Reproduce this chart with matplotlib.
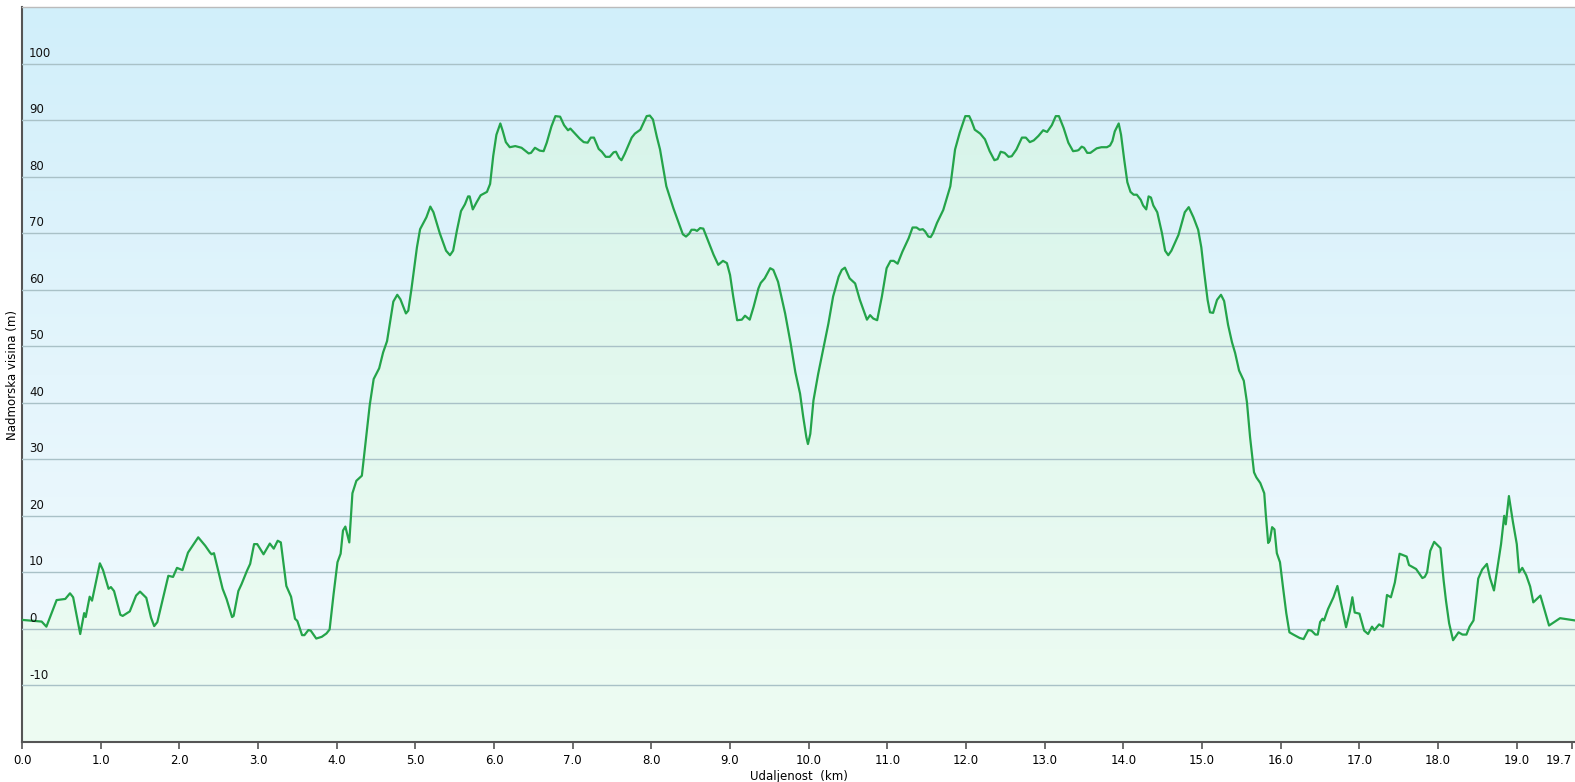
import matplotlib
matplotlib.use('Agg')
import matplotlib.pyplot as plt
import matplotlib.colors as mcolors
import numpy as np

# elevation profile (km, m)
dist_km = [0.00, 0.25, 0.31, 0.44, 0.55, 0.61, 0.65, 0.74, 0.79, 0.81, 0.86, 0.89, 0.99, 1.03, 1.10,
           1.13, 1.17, 1.25, 1.28, 1.37, 1.45, 1.50, 1.58, 1.64, 1.68, 1.72, 1.86, 1.92, 1.97, 2.04,
           2.11, 2.24, 2.33, 2.39, 2.41, 2.44, 2.55, 2.60, 2.67, 2.69, 2.75, 2.79, 2.86, 2.90, 2.95,
           2.99, 3.07, 3.15, 3.20, 3.25, 3.29, 3.36, 3.42, 3.47, 3.50, 3.56, 3.59, 3.64, 3.67, 3.74,
           3.81, 3.87, 3.91, 3.96, 4.01, 4.05, 4.08, 4.11, 4.16, 4.20, 4.25, 4.32, 4.36, 4.42, 4.47,
           4.54, 4.59, 4.64, 4.72, 4.77, 4.81, 4.88, 4.91, 4.95, 5.02, 5.06, 5.14, 5.19, 5.23, 5.31,
           5.39, 5.44, 5.48, 5.53, 5.58, 5.63, 5.67, 5.69, 5.73, 5.78, 5.83, 5.87, 5.91, 5.95, 5.99,
           6.03, 6.08, 6.11, 6.15, 6.20, 6.27, 6.35, 6.44, 6.47, 6.52, 6.58, 6.63, 6.67, 6.73, 6.78,
           6.84, 6.89, 6.94, 6.97, 7.03, 7.09, 7.14, 7.19, 7.23, 7.27, 7.33, 7.37, 7.42, 7.47, 7.52,
           7.55, 7.59, 7.62, 7.66, 7.75, 7.79, 7.86, 7.90, 7.94, 7.98, 8.02, 8.07, 8.11, 8.15, 8.19,
           8.28, 8.34, 8.40, 8.44, 8.48, 8.51, 8.55, 8.58, 8.62, 8.66, 8.70, 8.79, 8.85, 8.91, 8.96,
           9.00, 9.04, 9.09, 9.15, 9.19, 9.25, 9.30, 9.36, 9.39, 9.44, 9.51, 9.55, 9.61, 9.70, 9.77,
           9.83, 9.89, 9.93, 9.97, 9.99, 10.02, 10.06, 10.12, 10.19, 10.25, 10.31, 10.38, 10.42, 10.46,
           10.52, 10.59, 10.65, 10.74, 10.78, 10.82, 10.87, 10.93, 10.99, 11.04, 11.08, 11.13, 11.19,
           11.27, 11.32, 11.37, 11.41, 11.45, 11.48, 11.52, 11.55, 11.58, 11.63, 11.71, 11.80, 11.86,
           11.92, 11.99, 12.04, 12.07, 12.11, 12.18, 12.24, 12.30, 12.36, 12.40, 12.44, 12.49, 12.54,
           12.58, 12.64, 12.71, 12.76, 12.81, 12.86, 12.92, 12.98, 13.03, 13.09, 13.14, 13.18, 13.24,
           13.30, 13.36, 13.41, 13.43, 13.47, 13.50, 13.54, 13.58, 13.66, 13.72, 13.79, 13.83, 13.86,
           13.89, 13.94, 13.97, 14.01, 14.05, 14.09, 14.13, 14.17, 14.22, 14.25, 14.29, 14.32, 14.35,
           14.38, 14.43, 14.49, 14.53, 14.57, 14.61, 14.70, 14.78, 14.83, 14.89, 14.95, 14.99, 15.02,
           15.07, 15.10, 15.14, 15.19, 15.24, 15.28, 15.33, 15.38, 15.42, 15.47, 15.53, 15.57, 15.61,
           15.66, 15.69, 15.74, 15.79, 15.81, 15.84, 15.86, 15.89, 15.92, 15.95, 15.99, 16.03, 16.07,
           16.11, 16.16, 16.24, 16.29, 16.35, 16.39, 16.44, 16.47, 16.50, 16.53, 16.55, 16.60, 16.67,
           16.72, 16.83, 16.88, 16.91, 16.94, 17.00, 17.06, 17.11, 17.16, 17.19, 17.25, 17.30, 17.35,
           17.40, 17.45, 17.51, 17.60, 17.63, 17.72, 17.80, 17.83, 17.86, 17.90, 17.95, 18.00, 18.03,
           18.07, 18.10, 18.14, 18.19, 18.26, 18.31, 18.36, 18.40, 18.45, 18.48, 18.51, 18.56, 18.62,
           18.66, 18.71, 18.74, 18.80, 18.84, 18.86, 18.90, 18.95, 19.00, 19.03, 19.07, 19.12, 19.17,
           19.21, 19.30, 19.41, 19.55, 19.74]
elev_m = [1.6, 1.3, 0.4, 5.1, 5.3, 6.3, 5.6, -0.9, 2.8, 2.1, 5.7, 5.0, 11.6, 10.4, 7.1,
          7.4, 6.7, 2.5, 2.3, 3.1, 5.9, 6.6, 5.5, 2.0, 0.5, 1.2, 9.4, 9.2, 10.8, 10.4,
          13.5, 16.2, 14.7, 13.5, 13.2, 13.4, 7.1, 5.3, 2.1, 2.3, 6.7, 7.9, 10.3, 11.5, 15.0,
          15.0, 13.2, 15.1, 14.2, 15.6, 15.3, 7.6, 5.7, 1.8, 1.4, -1.1, -1.1, -0.2, -0.3, -1.7,
          -1.4, -0.8, -0.1, 6.1, 11.8, 13.3, 17.4, 18.1, 15.3, 24.0, 26.2, 27.1, 32.1, 39.6, 44.2,
          46.1, 48.9, 50.9, 57.9, 59.1, 58.3, 55.8, 56.3, 60.1, 67.5, 70.7, 72.8, 74.7, 73.7, 70.0,
          66.9, 66.1, 66.9, 70.6, 73.9, 75.1, 76.5, 76.5, 74.2, 75.5, 76.7, 77.0, 77.3, 78.7, 83.7,
          87.4, 89.4, 88.1, 86.1, 85.2, 85.4, 85.1, 84.1, 84.2, 85.1, 84.6, 84.5, 86.0, 88.9, 90.7,
          90.6, 89.1, 88.2, 88.5, 87.6, 86.7, 86.1, 86.0, 86.9, 86.9, 84.9, 84.4, 83.5, 83.5, 84.3,
          84.4, 83.3, 82.9, 84.0, 86.9, 87.6, 88.3, 89.5, 90.7, 90.8, 90.1, 87.0, 84.8, 81.5, 78.3,
          74.4, 72.1, 69.8, 69.4, 69.9, 70.6, 70.6, 70.4, 70.9, 70.8, 69.4, 66.2, 64.4, 65.1, 64.7,
          62.6, 58.8, 54.6, 54.7, 55.4, 54.7, 57.0, 60.2, 61.2, 62.0, 63.8, 63.5, 61.4, 55.8, 50.5,
          45.4, 41.6, 37.5, 33.9, 32.7, 34.5, 40.4, 45.1, 49.9, 54.0, 58.8, 62.3, 63.5, 63.9,
          62.0, 61.1, 58.2, 54.7, 55.5, 54.9, 54.6, 58.8, 63.8, 65.1, 65.1, 64.6, 66.7,
          69.1, 71.0, 71.0, 70.6, 70.7, 70.3, 69.4, 69.3, 70.0, 71.8, 74.1, 78.3, 84.8,
          87.8, 90.7, 90.7, 89.8, 88.3, 87.6, 86.6, 84.5, 82.9, 83.1, 84.4, 84.2, 83.5,
          83.6, 84.8, 86.9, 86.9, 86.1, 86.4, 87.2, 88.2, 87.9, 89.1, 90.7, 90.7, 88.6,
          86.0, 84.5, 84.6, 84.7, 85.3, 85.1, 84.2, 84.2, 85.0, 85.2, 85.2, 85.5, 86.3,
          88.0, 89.4, 87.4, 83.0, 79.0, 77.3, 76.8, 76.8, 75.9, 74.9, 74.2, 76.5, 76.3,
          74.9, 73.7, 70.0, 66.9, 66.1, 66.9, 69.7, 73.7, 74.6, 72.8, 70.6, 67.5, 63.8,
          58.2, 56.0, 55.9, 58.2, 59.1, 58.0, 53.8, 50.7, 48.8, 45.7, 43.9, 40.1, 33.9,
          27.7, 26.8, 25.8, 24.0, 20.2, 15.2, 15.6, 18.0, 17.6, 13.4, 11.8, 7.2, 2.8,
          -0.6, -1.0, -1.6, -1.8, -0.2, -0.3, -1.0, -1.0, 1.2, 1.8, 1.5, 3.5, 5.6,
          7.6, 0.3, 3.2, 5.6, 2.9, 2.7, -0.3, -0.9, 0.4, -0.2, 0.8, 0.4, 6.0,
          5.6, 8.2, 13.3, 12.8, 11.3, 10.6, 9.0, 9.2, 10.0, 13.8, 15.4, 14.7, 14.3,
          8.6, 5.0, 1.0, -2.0, -0.6, -1.0, -1.0, 0.4, 1.5, 5.1, 8.9, 10.5, 11.5,
          9.0, 6.8, 9.5, 15.0, 20.0, 18.5, 23.5, 19.0, 15.0, 10.0, 10.8, 9.5, 7.5,
          4.7, 5.9, 0.6, 1.9, 1.5]

x_ticks = list(range(0, 20)) + [19.7]
x_labels = ['%.1f' % t for t in x_ticks]
y_ticks = list(range(-10, 101, 10))
y_min, y_max = -20, 110

fig = plt.figure(figsize=(15.75, 7.82), dpi=100)
ax = fig.add_axes([22 / 1575, 1 - 742 / 782, 1 - 22 / 1575, (742 - 7) / 782])
x_max = dist_km[-1]
ax.set_xlim(0, x_max)
ax.set_ylim(y_min, y_max)

# sky background, light blue at top fading to white
bg = mcolors.LinearSegmentedColormap.from_list('bg', ['#f3fbfe', '#e4f5fc', '#d1effa'])
grad = np.linspace(0, 1, 256).reshape(-1, 1)
ax.imshow(grad, cmap=bg, origin='lower', aspect='auto',
          extent=[0, x_max, y_min, y_max], zorder=0)

# green gradient under the profile
fill = ax.fill_between(dist_km, elev_m, y_min, facecolor='none', edgecolor='none', zorder=1)
fg = mcolors.LinearSegmentedColormap.from_list('fg', ['#eefcf3', '#e2f8ee', '#d4f3e9'])
im = ax.imshow(grad, cmap=fg, origin='lower', aspect='auto',
               extent=[0, x_max, y_min, y_max], zorder=1)
im.set_clip_path(fill.get_paths()[0], transform=ax.transData)

ax.set_yticks(y_ticks)
ax.grid(axis='y', color='#a9c1c7', linewidth=1.0, zorder=2)
ax.set_axisbelow(False)
ax.tick_params(axis='y', length=0, labelleft=False)
for v in y_ticks:
    ax.text(0.09, v + 0.7, str(v), fontsize=8.5, ha='left', va='bottom', color='#111111', zorder=4)

ax.plot(dist_km, elev_m, color='#24a44a', linewidth=1.6, zorder=3)

ax.set_xticks(x_ticks)
ax.set_xticklabels(x_labels, fontsize=8.5)
ax.tick_params(axis='x', direction='out', length=5, width=1.2, color='#555555', pad=4)
ax.get_xticklabels()[-1].set_horizontalalignment('right')

for s in ['left', 'bottom']:
    ax.spines[s].set_color('#555555')
    ax.spines[s].set_linewidth(1.5)
ax.spines['top'].set_color('#bbbbbb')
ax.spines['top'].set_linewidth(1.0)
ax.spines['right'].set_visible(False)

ax.set_xlabel('Udaljenost  (km)', fontsize=8.5, labelpad=2)
ax.set_ylabel('Nadmorska visina (m)', fontsize=8.5, labelpad=2)

fig.savefig('out.png', dpi=100)
